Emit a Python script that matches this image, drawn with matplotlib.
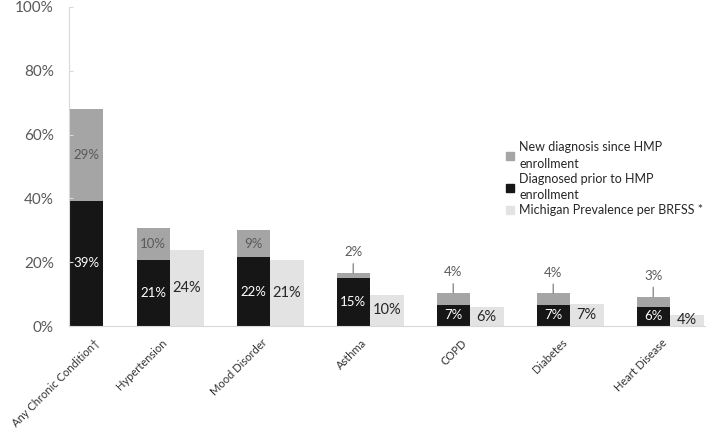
import numpy as np
import matplotlib
matplotlib.use('Agg')
import matplotlib.pyplot as plt
import matplotlib.transforms as mtransforms
from matplotlib.patches import Patch

categories = ['Any Chronic Condition\u2020', 'Hypertension', 'Mood Disorder',
              'Asthma', 'COPD', 'Diabetes', 'Heart Disease']
prior = [39.2, 20.6, 21.5, 14.9, 6.6, 6.6, 6.1]
new_dx = [28.8, 10.2, 8.6, 1.7, 3.7, 3.6, 3.1]
michigan = [np.nan, 23.7, 20.8, 9.8, 5.8, 6.8, 3.6]

legend_labels = ['New diagnosis since HMP\nenrollment',
                 'Diagnosed prior to HMP\nenrollment',
                 'Michigan Prevalence per BRFSS *']

c_new = '#a5a5a5'
c_prior = '#161616'
c_mi = '#e3e3e3'
c_text = '#595959'

plt.rcParams['font.family'] = ['Lato', 'DejaVu Sans']

fig = plt.figure(figsize=(7.09, 4.29), dpi=100)
ax = fig.add_axes([69 / 709, 103 / 429, 636 / 709, 319 / 429])

n = len(categories)
xs = np.arange(n, dtype=float)
xs[0] = 0.33  # first group has no comparison bar
w = 0.335

prior = np.array(prior)
new_dx = np.array(new_dx)
michigan = np.array(michigan)

def pct(v):
    return '%d%%' % int(v + 0.5)

ax.bar(xs - w / 2, prior, w, color=c_prior)
ax.bar(xs - w / 2, new_dx, w, bottom=prior, color=c_new)
ax.bar(xs + w / 2, michigan, w, color=c_mi)

for i in range(n):
    x = xs[i] - w / 2
    ax.text(x, prior[i] / 2, pct(prior[i]), ha='center', va='center',
            color='white', fontsize=9.5)
    top = prior[i] + new_dx[i]
    if new_dx[i] >= 5:
        ax.text(x, prior[i] + new_dx[i] / 2, pct(new_dx[i]), ha='center',
                va='center', color=c_text, fontsize=9.5)
    else:
        ax.annotate(pct(new_dx[i]), xy=(x, top), xytext=(0, 15),
                    textcoords='offset points', ha='center', va='center',
                    color=c_text, fontsize=9.5,
                    arrowprops=dict(arrowstyle='-', color='#8c8c8c', lw=1,
                                    shrinkA=2, shrinkB=0))
    if not np.isnan(michigan[i]):
        ax.text(xs[i] + w / 2, michigan[i] / 2, pct(michigan[i]),
                ha='center', va='center', color='#262626', fontsize=10.5)

ax.set_xlim(-0.01, 6.35)
ax.set_ylim(0, 100)
ax.set_yticks(np.arange(0, 101, 20))
ax.set_yticklabels(['%d%%' % v for v in range(0, 101, 20)])
ax.tick_params(axis='y', direction='in', length=3, color='#d9d9d9',
               labelcolor=c_text, labelsize=11, pad=11)
ax.set_xticks(xs)
ax.set_xticklabels(categories, rotation=45, ha='right',
                   rotation_mode='anchor', fontsize=8, color='#333333')
ax.tick_params(axis='x', length=0, pad=6)
shift = mtransforms.ScaledTranslation(-9 / 100, -3 / 100, fig.dpi_scale_trans)
for lab in ax.get_xticklabels():
    lab.set_transform(lab.get_transform() + shift)

for s in ['top', 'right']:
    ax.spines[s].set_visible(False)
ax.spines['left'].set_color('#d9d9d9')
ax.spines['bottom'].set_color('#d9d9d9')

handles = [Patch(color=c_new), Patch(color=c_prior), Patch(color=c_mi)]
leg = fig.legend(handles, legend_labels, loc='upper left',
                 bbox_to_anchor=(495 / 709, 1 - 130 / 429), frameon=False,
                 fontsize=9, handlelength=0.6, handleheight=0.6,
                 handletextpad=0.45, labelspacing=0.25, labelcolor='#262626')
for t in leg.get_texts():
    t.set_linespacing(1.45)

fig.savefig('out.png', dpi=100)
